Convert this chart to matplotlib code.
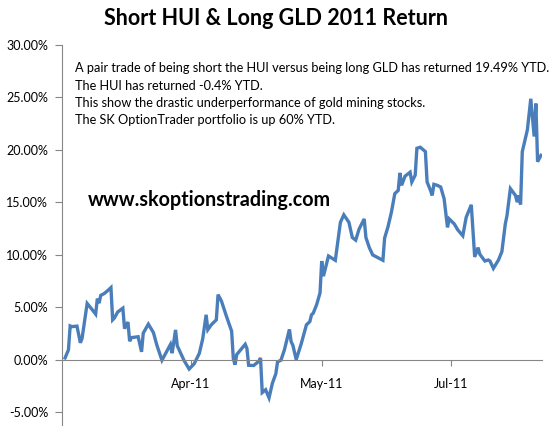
import matplotlib
matplotlib.use("Agg")
import matplotlib.pyplot as plt
from matplotlib.ticker import FixedLocator, FuncFormatter

# trading-day counter and pair-trade return (%)
day = [0, 2, 3, 4, 7, 9, 10, 13, 16, 18, 19, 20, 21, 23, 25, 27, 28, 29, 31, 34,
       35, 37, 38, 39, 43, 45, 46, 49, 52, 54, 57, 62, 63, 65, 66, 70, 73, 76, 79, 81,
       83, 84, 86, 89, 90, 92, 95, 98, 99, 100, 101, 106, 107, 108, 111, 114, 115, 116, 118, 119,
       120, 122, 124, 125, 127, 129, 132, 133, 134, 136, 139, 142, 144, 145, 146, 148, 150, 151, 152, 155,
       159, 160, 162, 164, 167, 169, 171, 173, 176, 177, 179, 181, 187, 188, 190, 192, 194, 196, 197, 198,
       200, 203, 204, 206, 207, 209, 212, 213, 215, 216, 217, 219, 221, 223, 225, 226, 229, 231, 234, 236,
       239, 241, 243, 244, 247, 249, 250, 252, 255, 257, 259, 260, 262, 265, 266, 267, 268, 269, 272, 274,
       276, 277, 278, 280]
ret = [0.19, 0.96, 3.24, 3.17, 3.22, 1.63, 2.05, 5.38, 4.78, 4.36, 5.84, 5.41, 6.15, 6.32, 6.59, 6.89, 3.82, 3.99, 4.57, 4.93,
       2.98, 3.61, 1.78, 2.12, 2.21, 0.77, 2.55, 3.41, 2.60, 1.41, -0.03, 1.47, 0.64, 2.86, 1.35, -0.05, -0.87, -0.36, 0.63, 2.02,
       4.30, 2.88, 3.34, 3.82, 6.22, 5.61, 4.13, 2.74, 0.10, -0.45, 0.51, 1.49, 1.09, -0.51, -0.53, -0.13, 0.19, -3.11, -2.84, -3.22,
       -3.61, -2.21, -1.32, -0.19, -0.03, 0.93, 2.91, 1.73, 1.41, 0.03, 1.57, 3.34, 3.65, 4.30, 4.45, 5.26, 6.38, 9.42, 7.98, 9.90,
       9.49, 10.70, 13.11, 13.82, 13.11, 11.66, 11.41, 12.47, 13.43, 11.66, 10.70, 10.00, 9.49, 11.61, 12.69, 14.07, 15.84, 16.15, 17.82, 16.63,
       17.50, 17.88, 16.95, 17.60, 20.16, 20.26, 19.84, 16.95, 16.15, 15.67, 16.73, 16.63, 16.47, 15.36, 12.63, 13.43, 12.95, 12.40, 11.83, 13.59,
       14.78, 9.81, 10.70, 10.07, 9.42, 9.52, 9.42, 8.72, 9.52, 10.32, 12.95, 13.75, 16.32, 15.67, 15.03, 15.67, 14.81, 19.84, 21.92, 24.88,
       21.28, 24.42, 18.88, 19.49]

tick_days = [74, 151, 227]
tick_labels = ["Apr-11", "May-11", "Jul-11"]
y_ticks = [-5, 0, 5, 10, 15, 20, 25, 30]

title = "Short HUI & Long GLD 2011 Return"
notes = [
    "A pair trade of being short the HUI versus being long GLD has returned 19.49% YTD.",
    "The HUI has returned -0.4% YTD.",
    "This show the drastic underperformance of gold mining stocks.",
    "The SK OptionTrader portfolio is up 60% YTD.",
]
url = "www.skoptionstrading.com"

plt.rcParams['font.family'] = ['Lato', 'DejaVu Sans']

fig = plt.figure(figsize=(5.53, 4.29), dpi=100)
ax = fig.add_axes([62/553, 4/429, 480/553, 380/429])

ax.plot(day, ret, color="#4A7EBB", lw=2.4, solid_joinstyle="miter")

ax.set_xlim(-1.8, 280.6)
ax.set_ylim(-6.2, 30)

for s in ["top", "right"]:
    ax.spines[s].set_visible(False)
ax.spines["left"].set_color("#868686")
ax.spines["bottom"].set_color("#868686")
ax.spines["bottom"].set_position(("data", 0))
ax.spines["left"].set_bounds(-6.2, 30)

ax.yaxis.set_major_locator(FixedLocator(y_ticks))
ax.yaxis.set_major_formatter(FuncFormatter(lambda v, p: f"{v:.2f}%"))
ax.set_xticks(tick_days)
ax.set_xticklabels(tick_labels)
ax.tick_params(axis="y", direction="out", length=5, color="#868686", labelsize=9, pad=5)
ax.tick_params(axis="x", direction="out", length=4, color="#868686", labelsize=9, pad=9)

fig.text(0.5, 0.958, title, ha="center", va="center", fontsize=15.5, fontweight="bold")

for i, line in enumerate(notes):
    fig.text(75/553, 1 - (68 + i*17.5)/429, line, ha="left", va="center", fontsize=9.2)

fig.text(88/553, 1 - 200/429, url, ha="left", va="center", fontsize=14.2, fontweight="bold")

fig.savefig("out.png", dpi=100)
